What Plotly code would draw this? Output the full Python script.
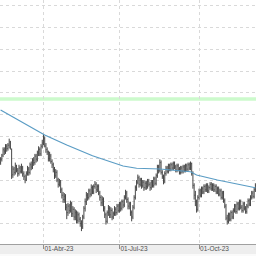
import plotly.graph_objects as go
import pandas as pd

# ---- data ----
start_date = "2023-02-13"
holidays = ["2023-04-07", "2023-04-10", "2023-05-01"]

close = [259, 262, 268, 266, 271, 269, 272, 275, 270, 244,
         250, 247, 253, 249, 246, 251, 248, 252, 245, 243,
         240, 246, 250, 247, 254, 252, 258, 256, 262, 259,
         265, 268, 264, 271, 274, 279, 272, 268, 266, 260,
         263, 257, 254, 250, 244, 247, 240, 236, 238, 231,
         226, 222, 225, 215, 210, 216, 212, 218, 209, 213,
         206, 210, 203, 208, 204, 200, 196, 206, 214, 220,
         226, 224, 230, 227, 233, 229, 234, 236, 231, 234,
         228, 224, 219, 222, 214, 208, 202, 210, 214, 208,
         212, 206, 209, 213, 210, 216, 212, 218, 214, 220,
         217, 224, 228, 222, 216, 218, 210, 206, 215, 224,
         233, 238, 242, 236, 240, 235, 238, 233, 237, 234,
         239, 236, 233, 238, 235, 241, 237, 244, 252, 249,
         256, 247, 243, 239, 246, 251, 248, 253, 250, 254,
         251, 255, 252, 249, 253, 250, 247, 251, 248, 252,
         249, 253, 250, 254, 251, 255, 246, 235, 226, 220,
         213, 224, 230, 226, 232, 229, 234, 231, 235, 230,
         233, 236, 232, 235, 231, 234, 229, 232, 227, 230,
         224, 228, 221, 216, 205, 202, 208, 204, 210, 206,
         212, 216, 211, 218, 214, 220, 215, 212, 218, 214,
         211, 216, 221, 218, 224, 228, 225, 231, 235]

open_ = [256, 259, 263, 267, 266, 271, 269, 272, 274, 268,
         245, 250, 247, 252, 249, 246, 251, 248, 251, 246,
         243, 241, 246, 250, 247, 254, 252, 258, 256, 262,
         259, 265, 268, 264, 271, 274, 278, 271, 268, 265,
         260, 262, 257, 254, 250, 244, 247, 240, 236, 238,
         231, 226, 222, 225, 215, 210, 216, 212, 218, 209,
         213, 206, 210, 203, 208, 204, 200, 197, 206, 214,
         220, 226, 224, 230, 227, 233, 229, 234, 236, 231,
         234, 228, 224, 219, 222, 214, 208, 202, 210, 214,
         208, 212, 206, 209, 213, 210, 216, 212, 218, 214,
         220, 217, 224, 228, 222, 216, 218, 210, 206, 215,
         224, 233, 238, 242, 236, 240, 235, 238, 233, 237,
         234, 239, 236, 233, 238, 235, 241, 237, 244, 252,
         249, 256, 247, 243, 239, 246, 251, 248, 253, 250,
         254, 251, 255, 252, 249, 253, 250, 247, 251, 248,
         252, 249, 253, 250, 254, 251, 255, 246, 235, 226,
         220, 213, 224, 230, 226, 232, 229, 234, 231, 235,
         230, 233, 236, 232, 235, 231, 234, 229, 232, 227,
         230, 224, 228, 221, 216, 205, 202, 208, 204, 210,
         206, 212, 216, 211, 218, 214, 220, 215, 212, 218,
         214, 211, 216, 221, 218, 224, 228, 225, 231]

high = [261, 264, 270, 270, 273, 273, 274, 278, 276, 269,
        253, 252, 256, 254, 251, 254, 253, 255, 253, 248,
        245, 248, 253, 252, 256, 257, 260, 261, 264, 264,
        267, 271, 270, 273, 277, 282, 280, 274, 270, 267,
        266, 264, 259, 256, 252, 250, 249, 242, 241, 240,
        233, 229, 228, 227, 218, 219, 218, 221, 220, 216,
        215, 213, 212, 211, 210, 206, 203, 208, 216, 223,
        229, 228, 232, 232, 236, 235, 236, 239, 238, 236,
        236, 230, 226, 225, 224, 216, 210, 212, 217, 216,
        215, 214, 211, 216, 215, 218, 218, 220, 220, 222,
        222, 226, 231, 230, 224, 220, 220, 212, 217, 226,
        235, 240, 245, 244, 242, 242, 240, 240, 239, 239,
        241, 241, 238, 240, 240, 243, 243, 246, 254, 254,
        259, 258, 249, 245, 248, 253, 253, 255, 255, 256,
        256, 257, 257, 254, 255, 255, 252, 253, 253, 254,
        254, 255, 255, 256, 256, 257, 256, 248, 237, 230,
        222, 226, 232, 232, 234, 234, 236, 236, 237, 237,
        235, 238, 238, 237, 237, 236, 236, 234, 234, 232,
        232, 230, 230, 223, 218, 208, 210, 210, 212, 212,
        214, 218, 218, 220, 220, 222, 222, 217, 220, 220,
        216, 218, 223, 223, 226, 230, 230, 233, 237]

low = [254, 257, 261, 263, 264, 266, 267, 269, 268, 241,
       242, 244, 245, 247, 243, 244, 246, 246, 243, 240,
       237, 239, 244, 244, 245, 249, 250, 253, 254, 256,
       257, 262, 262, 262, 269, 272, 270, 265, 263, 257,
       257, 255, 251, 247, 241, 242, 238, 233, 234, 228,
       223, 219, 219, 212, 204, 207, 209, 210, 206, 206,
       203, 203, 200, 200, 201, 197, 193, 195, 204, 211,
       217, 221, 222, 224, 225, 227, 227, 232, 228, 229,
       226, 221, 216, 216, 211, 205, 199, 200, 207, 205,
       205, 203, 204, 207, 207, 208, 210, 210, 211, 212,
       214, 215, 222, 219, 213, 213, 207, 202, 204, 213,
       222, 230, 236, 233, 234, 232, 233, 230, 231, 231,
       232, 234, 230, 231, 233, 233, 235, 235, 242, 246,
       247, 245, 241, 236, 237, 244, 246, 246, 248, 248,
       249, 249, 250, 247, 247, 248, 245, 245, 246, 246,
       247, 247, 248, 248, 249, 249, 244, 232, 222, 216,
       210, 211, 222, 224, 224, 227, 227, 229, 229, 228,
       228, 231, 230, 230, 229, 229, 227, 227, 225, 225,
       222, 222, 219, 214, 203, 199, 200, 202, 202, 204,
       204, 210, 209, 209, 212, 212, 213, 210, 210, 212,
       209, 209, 214, 216, 216, 222, 223, 223, 229]

# moving average (sampled at bar positions)
ma_index = [0, 26, 36, 54, 75, 100, 111, 130, 155, 160, 177, 208]
ma_value = [304.4, 287.5, 281.4, 272.2, 262.3, 252.9, 250.8, 250.1, 247.6, 244.6, 240.0, 232.9]

support_level = 314.5

tick_dates = ["2023-04-03", "2023-07-03", "2023-10-02"]
tick_labels = ["01-Abr-23", "01-Jul-23", "01-Oct-23"]

# ---- figure ----
dates = pd.bdate_range(start=start_date, periods=len(close), freq="C",
                       holidays=holidays).strftime("%Y-%m-%d").tolist()

fig = go.Figure()
fig.add_trace(go.Ohlc(
    x=dates, open=open_, high=high, low=low, close=close,
    increasing=dict(line=dict(color="#474747", width=1)),
    decreasing=dict(line=dict(color="#474747", width=1)),
    tickwidth=0.4, hoverinfo="skip", showlegend=False,
))
fig.add_trace(go.Scatter(
    x=[dates[i] for i in ma_index], y=ma_value, mode="lines",
    line=dict(color="#5a9cc4", width=1.2), hoverinfo="skip", showlegend=False,
))
fig.add_shape(type="line", xref="paper", x0=0, x1=1, yref="y",
              y0=support_level, y1=support_level,
              line=dict(color="#ccfacc", width=3.5), layer="below")
# light strip at the very bottom edge of the axis band
fig.add_shape(type="rect", xref="paper", x0=0, x1=1, yref="paper",
              y0=-12 / 244, y1=-10 / 244, line=dict(width=0),
              fillcolor="#fafafa", layer="above")

fig.update_layout(
    width=256, height=256,
    margin=dict(l=0, r=0, t=0, b=12),
    paper_bgcolor="#eeeeee", plot_bgcolor="white",
    showlegend=False,
    font=dict(family="Liberation Sans, Arial, sans-serif", size=7, color="#505050"),
)
fig.update_xaxes(
    type="category", rangeslider=dict(visible=False),
    tickmode="array", tickvals=tick_dates, ticktext=tick_labels,
    ticks="outside", ticklen=4, tickcolor="#909090", tickwidth=1,
    ticklabelposition="outside right", ticklabelstandoff=-2,
    tickfont=dict(size=6.5, color="#505050"),
    showgrid=True, gridcolor="#d9d9d9", griddash="dot", gridwidth=1,
    showline=True, linecolor="#a0a0a0", linewidth=1,
    range=[-0.5, len(close) - 0.5], fixedrange=True,
)
fig.update_yaxes(
    range=[181.15, 405.5], tick0=200, dtick=20,
    showticklabels=False, ticks="",
    showgrid=True, gridcolor="#d9d9d9", griddash="dot", gridwidth=1,
    zeroline=False, showline=False, fixedrange=True,
)

fig.write_html("out.html", config={"displayModeBar": False})
